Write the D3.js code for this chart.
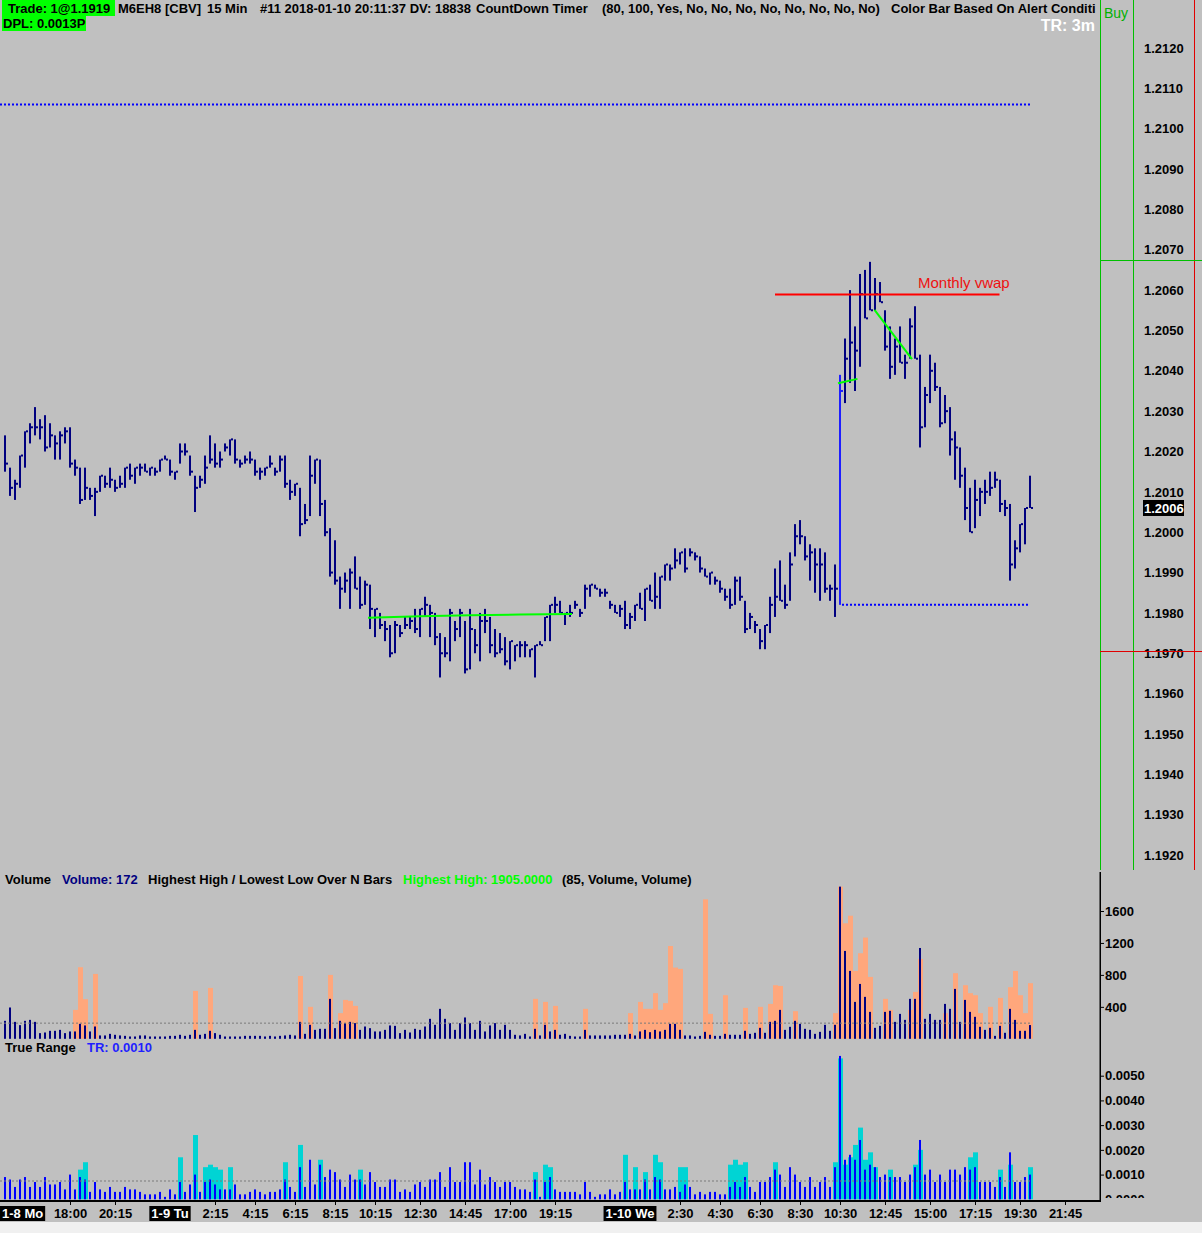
<!DOCTYPE html>
<html>
<head>
<meta charset="utf-8">
<script src="https://cdn.jsdelivr.net/npm/d3@7"></script>
<style>
  html, body { margin: 0; padding: 0; background: #c0c0c0; }
  svg { display: block; }
</style>
</head>
<body>
<div id="chart"></div>
<script>
// 15 min bars, M6EH8, 1-8 .. 1-10 (one entry per bar)
const highs = [
  1.2024,1.2016,1.2013,1.2019,1.2025,1.2027,1.2031,1.2028,1.2029,1.2027,
  1.2024,1.2025,1.2026,1.2026,1.2018,1.2016,1.2016,1.2011,1.2011,1.2014,
  1.2014,1.2016,1.2013,1.2014,1.2016,1.2017,1.2016,1.2017,1.2017,1.2016,
  1.2016,1.2018,1.2019,1.2018,1.2015,1.2022,1.2022,1.2019,1.2014,1.2014,
  1.2019,1.2024,1.2022,1.2020,1.2022,1.2023,1.2023,1.2018,1.2019,1.2020,
  1.2018,1.2016,1.2016,1.2019,1.2016,1.2019,1.2019,1.2013,1.2012,1.2011,
  1.2007,1.2019,1.2018,1.2018,1.2008,1.2001,1.1998,1.1989,1.1990,1.1991,
  1.1994,1.1989,1.1988,1.1987,1.1981,1.1980,1.1978,1.1977,1.1978,1.1977,
  1.1979,1.1979,1.1981,1.1981,1.1984,1.1982,1.1980,1.1975,1.1974,1.1981,
  1.1978,1.1981,1.1978,1.1981,1.1976,1.1980,1.1981,1.1979,1.1976,1.1975,
  1.1974,1.1973,1.1972,1.1973,1.1973,1.1971,1.1972,1.1973,1.1979,1.1982,
  1.1984,1.1983,1.1980,1.1982,1.1983,1.1981,1.1987,1.1987,1.1987,1.1986,
  1.1986,1.1983,1.1982,1.1982,1.1983,1.1980,1.1982,1.1985,1.1986,1.1987,
  1.1990,1.1989,1.1992,1.1992,1.1996,1.1995,1.1996,1.1996,1.1995,1.1994,
  1.1991,1.1990,1.1989,1.1988,1.1986,1.1986,1.1989,1.1989,1.1983,1.1980,
  1.1978,1.1976,1.1977,1.1984,1.1991,1.1993,1.1987,1.1995,1.2002,1.2003,
  1.1999,1.1997,1.1996,1.1996,1.1995,1.1987,1.1992,1.2039,1.2048,1.2060,
  1.2051,1.2064,1.2065,1.2067,1.2063,1.2062,1.2055,1.2051,1.2048,1.2051,
  1.2044,1.2053,1.2056,1.2044,1.2036,1.2044,1.2042,1.2036,1.2034,1.2031,
  1.2025,1.2021,1.2016,1.2011,1.2013,1.2011,1.2013,1.2015,1.2015,1.2013,
  1.2008,1.2007,1.1998,1.2002,1.2006,1.2014
];
const lows = [
  1.2015,1.2009,1.2008,1.2011,1.2016,1.2022,1.2024,1.2023,1.2020,1.2021,
  1.2018,1.2018,1.2022,1.2016,1.2014,1.2007,1.2008,1.2008,1.2004,1.2010,
  1.2011,1.2011,1.2010,1.2011,1.2011,1.2013,1.2012,1.2014,1.2015,1.2014,
  1.2014,1.2015,1.2018,1.2014,1.2013,1.2017,1.2019,1.2014,1.2005,1.2011,
  1.2012,1.2017,1.2016,1.2016,1.2020,1.2019,1.2017,1.2016,1.2017,1.2017,
  1.2014,1.2013,1.2014,1.2016,1.2014,1.2015,1.2011,1.2008,1.2009,1.1999,
  1.2002,1.2004,1.2012,1.2004,1.1999,1.1989,1.1987,1.1981,1.1985,1.1981,
  1.1986,1.1981,1.1982,1.1976,1.1974,1.1976,1.1973,1.1969,1.1970,1.1974,
  1.1976,1.1976,1.1975,1.1974,1.1979,1.1974,1.1972,1.1964,1.1969,1.1968,
  1.1973,1.1974,1.1965,1.1966,1.1970,1.1968,1.1975,1.1970,1.1969,1.1970,
  1.1967,1.1966,1.1968,1.1969,1.1969,1.1969,1.1964,1.1972,1.1973,1.1973,
  1.1980,1.1980,1.1977,1.1979,1.1981,1.1979,1.1981,1.1984,1.1986,1.1984,
  1.1984,1.1981,1.1980,1.1979,1.1976,1.1976,1.1978,1.1981,1.1978,1.1983,
  1.1981,1.1981,1.1988,1.1988,1.1991,1.1992,1.1990,1.1994,1.1993,1.1990,
  1.1989,1.1987,1.1987,1.1985,1.1983,1.1981,1.1982,1.1983,1.1975,1.1976,
  1.1975,1.1971,1.1971,1.1975,1.1979,1.1983,1.1981,1.1983,1.1994,1.1997,
  1.1993,1.1988,1.1985,1.1983,1.1985,1.1983,1.1979,1.1982,1.2032,1.2037,
  1.2035,1.2041,1.2053,1.2055,1.2055,1.2057,1.2045,1.2038,1.2039,1.2042,
  1.2038,1.2043,1.2043,1.2021,1.2026,1.2032,1.2035,1.2026,1.2027,1.2019,
  1.2013,1.2011,1.2003,1.2000,1.2001,1.2004,1.2007,1.2009,1.2011,1.2005,
  1.2004,1.1988,1.1991,1.1995,1.1997,1.2006
];
const closes = [
  1.2017,1.2011,1.2012,1.2019,1.2025,1.2026,1.2026,1.2026,1.2021,1.2024,
  1.2022,1.2024,1.2025,1.2017,1.2016,1.2008,1.2011,1.2009,1.2010,1.2014,
  1.2012,1.2013,1.2011,1.2012,1.2016,1.2014,1.2016,1.2016,1.2015,1.2016,
  1.2015,1.2018,1.2018,1.2015,1.2015,1.2020,1.2020,1.2015,1.2011,1.2013,
  1.2016,1.2018,1.2017,1.2018,1.2021,1.2023,1.2018,1.2017,1.2018,1.2018,
  1.2015,1.2015,1.2016,1.2017,1.2015,1.2018,1.2012,1.2010,1.2012,1.2002,
  1.2003,1.2014,1.2018,1.2007,1.2000,1.1990,1.1988,1.1986,1.1988,1.1990,
  1.1986,1.1982,1.1987,1.1981,1.1981,1.1977,1.1976,1.1970,1.1977,1.1975,
  1.1977,1.1978,1.1976,1.1981,1.1982,1.1980,1.1974,1.1970,1.1970,1.1980,
  1.1976,1.1980,1.1966,1.1976,1.1972,1.1978,1.1978,1.1972,1.1970,1.1971,
  1.1968,1.1973,1.1972,1.1972,1.1972,1.1971,1.1972,1.1972,1.1979,1.1982,
  1.1982,1.1980,1.1980,1.1980,1.1982,1.1980,1.1986,1.1987,1.1986,1.1985,
  1.1985,1.1982,1.1980,1.1981,1.1977,1.1979,1.1982,1.1981,1.1986,1.1983,
  1.1984,1.1989,1.1992,1.1991,1.1993,1.1995,1.1991,1.1995,1.1994,1.1991,
  1.1989,1.1990,1.1988,1.1986,1.1984,1.1982,1.1988,1.1984,1.1976,1.1979,
  1.1977,1.1973,1.1977,1.1982,1.1984,1.1983,1.1982,1.1992,1.1999,1.1999,
  1.1994,1.1995,1.1992,1.1992,1.1986,1.1986,1.1986,1.2035,1.2043,1.2047,
  1.2045,1.2059,1.2053,1.2055,1.2059,1.2057,1.2046,1.2041,1.2046,1.2042,
  1.2042,1.2051,1.2043,1.2026,1.2034,1.2040,1.2036,1.2027,1.2030,1.2023,
  1.2021,1.2014,1.2006,1.2000,1.2008,1.2010,1.2010,1.2011,1.2013,1.2007,
  1.2006,1.1992,1.1996,1.2002,1.2006,1.2006
];
const highlightBars = [167];

const volume = [
  225,392,212,171,225,237,212,71,79,100,
  100,112,71,92,92,187,167,92,154,42,
  42,62,50,42,37,29,29,42,42,29,
  29,29,29,37,37,50,37,50,112,50,
  62,100,71,50,29,29,29,29,37,37,
  37,37,29,37,29,37,42,50,42,212,
  62,175,112,125,125,500,133,225,196,212,
  196,112,154,133,92,92,112,167,162,71,
  112,79,125,112,154,250,175,375,250,196,
  112,196,267,196,112,225,92,167,196,112,
  175,112,50,42,62,29,125,42,175,92,
  112,50,62,37,29,29,112,42,42,42,
  42,42,50,50,50,62,42,92,112,83,
  112,92,112,187,187,112,42,42,29,37,
  87,50,37,37,62,50,50,50,100,62,
  75,137,75,212,225,362,112,150,225,187,
  125,112,62,87,175,100,175,1905,1100,850,
  462,687,525,337,137,162,337,350,212,312,
  237,500,500,1137,250,312,237,237,437,375,
  625,212,487,337,275,150,112,137,37,162,
  75,375,237,100,100,172
];
// [bar, value] for the salmon alert columns
const volumeAlert = [
  [14,362],[15,896],[16,496],[18,812],[38,600],[41,637],[59,787],[61,400],[65,800],
  [67,321],[68,487],[69,475],[70,412],[106,500],[108,462],[110,412],[116,375],
  [125,321],[127,462],[128,375],[129,375],[130,571],[131,362],[132,446],[133,1162],
  [134,892],[135,875],[140,1746],[141,312],[144,546],[148,387],[151,400],[153,437],
  [154,671],[155,662],[158,346],[166,321],[167,1905],[168,1446],[169,1541],[170,850],
  [171,1071],[172,1267],[173,775],[176,500],[177,362],[181,362],[182,587],[183,1000],
  [188,321],[190,821],[192,671],[193,571],[194,546],[195,321],[197,400],[199,512],
  [201,646],[202,850],[203,546],[204,321],[205,696]
];
const volumeLevel = 196;

const trueRange = [
  0.0009,0.0008,0.0005,0.0008,0.0009,0.0005,0.0007,0.0005,0.0009,0.0006,
  0.0006,0.0007,0.0004,0.0010,0.0004,0.0009,0.0008,0.0003,0.0007,0.0004,
  0.0003,0.0005,0.0003,0.0003,0.0005,0.0004,0.0004,0.0003,0.0002,0.0002,
  0.0002,0.0003,0.0001,0.0004,0.0002,0.0007,0.0003,0.0006,0.0010,0.0003,
  0.0007,0.0008,0.0006,0.0004,0.0004,0.0004,0.0006,0.0002,0.0002,0.0003,
  0.0004,0.0003,0.0002,0.0003,0.0003,0.0004,0.0008,0.0005,0.0003,0.0013,
  0.0005,0.0016,0.0006,0.0014,0.0009,0.0012,0.0011,0.0008,0.0005,0.0010,
  0.0008,0.0008,0.0006,0.0011,0.0007,0.0005,0.0005,0.0008,0.0008,0.0003,
  0.0004,0.0003,0.0006,0.0007,0.0005,0.0008,0.0008,0.0011,0.0005,0.0013,
  0.0007,0.0007,0.0015,0.0015,0.0006,0.0012,0.0006,0.0009,0.0007,0.0005,
  0.0007,0.0007,0.0005,0.0004,0.0004,0.0003,0.0008,0.0001,0.0007,0.0009,
  0.0004,0.0003,0.0003,0.0003,0.0003,0.0002,0.0007,0.0003,0.0001,0.0002,
  0.0002,0.0004,0.0002,0.0003,0.0007,0.0004,0.0004,0.0004,0.0008,0.0004,
  0.0009,0.0008,0.0004,0.0004,0.0005,0.0003,0.0006,0.0005,0.0002,0.0003,
  0.0002,0.0003,0.0003,0.0002,0.0002,0.0005,0.0007,0.0005,0.0009,0.0005,
  0.0003,0.0007,0.0007,0.0009,0.0012,0.0010,0.0005,0.0013,0.0010,0.0007,
  0.0005,0.0009,0.0005,0.0007,0.0009,0.0005,0.0013,0.0058,0.0016,0.0018,
  0.0016,0.0024,0.0012,0.0014,0.0013,0.0009,0.0010,0.0009,0.0009,0.0009,
  0.0007,0.0010,0.0013,0.0024,0.0010,0.0012,0.0007,0.0010,0.0007,0.0012,
  0.0012,0.0010,0.0013,0.0012,0.0013,0.0007,0.0007,0.0007,0.0005,0.0009,
  0.0005,0.0019,0.0007,0.0007,0.0009,0.0010
];
const trAlert = [
  [15,0.0012],[16,0.0015],[35,0.0017],[38,0.0026],[40,0.0013],[41,0.0014],[42,0.0013],
  [43,0.0012],[45,0.0013],[56,0.0015],[59,0.0022],[63,0.0016],[71,0.0012],[106,0.0011],
  [108,0.0014],[109,0.0013],[124,0.0018],[126,0.0013],[128,0.0011],[130,0.0018],
  [131,0.0015],[135,0.0013],[136,0.0013],[145,0.0014],[146,0.0016],[147,0.0014],
  [148,0.0015],[154,0.0015],[166,0.0015],[167,0.0057],[168,0.0014],[169,0.0017],
  [170,0.0022],[171,0.0029],[172,0.0016],[173,0.0019],[174,0.0013],[177,0.0012],
  [182,0.0014],[183,0.0020],[193,0.0017],[194,0.0019],[199,0.0012],[201,0.0014],[205,0.0013]
];
const trLevel = 0.00074;

// overlay lines, [bar, price]
const greenLines = [
  [[72.6,1.19788],[83,1.19792],[93,1.19794],[103,1.19796],[113.4,1.19797]],
  [[166.6,1.20369],[170.5,1.20380]],
  [[173.9,1.20551],[181.4,1.20429]]
];
const dottedLevels = [
  { from: -1, to: 205, price: 1.2106 },
  { from: 167.4, to: 205, price: 1.1982 }
];
const vwapLine = [[154,1.20589],[198.9,1.20589]];
const lastPrice = 1.2006;
const axisGreenLevel = 1.20674;
const axisRedLevel = 1.19705;

const priceTicks = d3.range(0, 21).map(i => +(1.1920 + i * 0.001).toFixed(4));
const volumeTicks = [400, 800, 1200, 1600];
const trTicks = [0, 0.001, 0.002, 0.003, 0.004, 0.005];
const timeTicks = [
  [13,'18:00'],[22,'20:15'],[42,'2:15'],[50,'4:15'],[58,'6:15'],[66,'8:15'],[74,'10:15'],
  [83,'12:30'],[92,'14:45'],[101,'17:00'],[110,'19:15'],[135,'2:30'],[143,'4:30'],
  [151,'6:30'],[159,'8:30'],[167,'10:30'],[176,'12:45'],[185,'15:00'],[194,'17:15'],
  [203,'19:30'],[212,'21:45']
];
const dayTicks = [[0,'1-8 Mo'],[33,'1-9 Tu'],[125,'1-10 We']];

// ---- drawing ----
const W = 1202, H = 1233;
const FONT = "'Liberation Sans', Arial, sans-serif";
const NAVY = '#000080';

const svg = d3.select('#chart').append('svg').attr('width', W).attr('height', H)
  .style('font-family', FONT);

svg.append('rect').attr('width', W).attr('height', H).attr('fill', '#c0c0c0');
svg.append('rect').attr('y', 1222).attr('width', W).attr('height', H - 1222).attr('fill', '#f0f0f0');

const defs = svg.append('defs');
function clip(id, x0, y0, w, h) {
  defs.append('clipPath').attr('id', id).append('rect')
    .attr('x', x0).attr('y', y0).attr('width', w).attr('height', h);
}
clip('clipPrice', 0, 0, 1100, 870);
clip('clipLower', 0, 870, 1100, 330);
clip('clipTrAxis', 1100, 1040, 102, 158);
clip('clipHead', 0, 0, 1100, 40);

const bars = d3.range(highs.length);
const x = d3.scaleLinear().domain([0, bars.length - 1]).range([5, 1030]);
const yP = d3.scaleLinear().domain([1.1920, 1.2120]).range([855, 48]);
const yV = d3.scaleLinear().domain([0, 1600]).range([1038.8, 911]);
const yT = d3.scaleLinear().domain([0, 0.005]).range([1199.3, 1075.7]);

// price panel
const price = svg.append('g').attr('clip-path', 'url(#clipPrice)');

price.selectAll('.lvl').data(dottedLevels).join('line')
  .attr('x1', d => x(d.from)).attr('x2', d => x(d.to))
  .attr('y1', d => yP(d.price)).attr('y2', d => yP(d.price))
  .attr('stroke', '#0000ff').attr('stroke-width', 2).attr('stroke-dasharray', '2,2');

const barColor = i => highlightBars.includes(i) ? '#1e1eff' : NAVY;
price.selectAll('.hl').data(bars).join('rect')
  .attr('x', i => x(i) - 1).attr('y', i => yP(highs[i]))
  .attr('width', 2).attr('height', i => Math.max(1, yP(lows[i]) - yP(highs[i])))
  .attr('fill', barColor);
price.selectAll('.cl').data(bars).join('rect')
  .attr('x', i => x(i) + 1).attr('y', i => yP(closes[i]) - 1)
  .attr('width', 2).attr('height', 2)
  .attr('fill', barColor);

const line = d3.line().x(d => x(d[0])).y(d => yP(d[1]));
price.selectAll('.gl').data(greenLines).join('path')
  .attr('d', line).attr('fill', 'none').attr('stroke', '#00ff00').attr('stroke-width', 2);

price.append('path').datum(vwapLine).attr('d', line)
  .attr('fill', 'none').attr('stroke', '#ff0000').attr('stroke-width', 2);
price.append('text')
  .attr('x', x(182.6)).attr('y', yP(vwapLine[0][1]) - 7)
  .attr('fill', '#ee1111').attr('font-size', 15).text('Monthly vwap');

// header
const head = svg.append('g').attr('clip-path', 'url(#clipHead)')
  .attr('font-size', 13).attr('font-weight', 'bold');
head.append('rect').attr('x', 2).attr('y', 0).attr('width', 113).attr('height', 16).attr('fill', '#00ff00');
head.append('rect').attr('x', 2).attr('y', 16).attr('width', 84).attr('height', 15).attr('fill', '#00ff00');
const headItems = [
  [8, 'Trade: 1@1.1919'], [118, 'M6EH8 [CBV]'], [207, '15 Min'],
  [260, '#11 2018-01-10 20:11:37 DV: 18838'], [476, 'CountDown Timer'],
  [602, '(80, 100, Yes, No, No, No, No, No, No, No, No)'],
  [891, 'Color Bar Based On Alert Conditi']
];
head.selectAll('.h1').data(headItems).join('text')
  .attr('x', d => d[0]).attr('y', 13).attr('fill', '#000').text(d => d[1]);
head.append('text').attr('x', 3).attr('y', 28).attr('fill', '#000').text('DPL: 0.0013P');
svg.append('text').attr('x', 1095).attr('y', 31).attr('text-anchor', 'end')
  .attr('font-size', 16).attr('font-weight', 'bold').attr('fill', '#fff').text('TR: 3m');
svg.append('text').attr('x', 1104).attr('y', 18)
  .attr('font-size', 14).attr('fill', '#00b000').text('Buy');

// right price scale
svg.append('g').attr('transform', 'translate(1141,0)')
  .call(d3.axisRight(yP).tickValues(priceTicks).tickSize(0).tickPadding(3).tickFormat(d3.format('.4f')))
  .call(g => g.select('.domain').remove())
  .call(g => g.selectAll('text').attr('font-family', FONT).attr('font-size', 13)
    .attr('font-weight', 'bold').attr('fill', '#000'));

// trade marker lines on the price scale
const vRule = (x0, c) => svg.append('rect').attr('x', x0).attr('y', 0)
  .attr('width', 1).attr('height', 870).attr('fill', c);
const hRule = (y0, c) => svg.append('rect').attr('x', 1100).attr('y', Math.round(y0))
  .attr('width', 102).attr('height', 1).attr('fill', c);
vRule(1100, '#00c000');
vRule(1133, '#00c000');
vRule(1194, '#e00000');
hRule(yP(axisGreenLevel), '#00c000');
hRule(yP(axisRedLevel), '#e00000');

svg.append('rect').attr('x', 1143).attr('y', yP(lastPrice) - 8).attr('width', 41).attr('height', 16).attr('fill', '#000');
svg.append('text').attr('x', 1144).attr('y', yP(lastPrice) + 5)
  .attr('font-size', 13).attr('font-weight', 'bold').attr('fill', '#fff').text(lastPrice.toFixed(4));

// volume panel
const lower = svg.append('g').attr('clip-path', 'url(#clipLower)');
lower.selectAll('.va').data(volumeAlert).join('rect')
  .attr('x', d => x(d[0]) - 2).attr('y', d => yV(d[1]))
  .attr('width', 5).attr('height', d => yV(0) - yV(d[1])).attr('fill', '#ffa77c');
lower.selectAll('.vb').data(bars).join('rect')
  .attr('x', i => x(i) - 1).attr('y', i => yV(volume[i]))
  .attr('width', 2).attr('height', i => yV(0) - yV(volume[i])).attr('fill', NAVY);
lower.append('line').attr('x1', 0).attr('x2', x(205))
  .attr('y1', yV(volumeLevel)).attr('y2', yV(volumeLevel))
  .attr('stroke', '#7a7a7a').attr('stroke-dasharray', '2,2');

// true range panel
lower.selectAll('.ta').data(trAlert).join('rect')
  .attr('x', d => x(d[0]) - 2).attr('y', d => yT(d[1]))
  .attr('width', 5).attr('height', d => yT(0) - yT(d[1])).attr('fill', '#00d4d4');
lower.selectAll('.tb').data(bars).join('rect')
  .attr('x', i => x(i) - 1).attr('y', i => yT(trueRange[i]))
  .attr('width', 2).attr('height', i => yT(0) - yT(trueRange[i])).attr('fill', '#0000ff');
lower.append('line').attr('x1', 0).attr('x2', x(205))
  .attr('y1', yT(trLevel)).attr('y2', yT(trLevel))
  .attr('stroke', '#7a7a7a').attr('stroke-dasharray', '2,2');

// panel titles, each piece at its own x
const titles = [
  [5, 884, 'Volume', '#000'], [62, 884, 'Volume: 172', NAVY],
  [148, 884, 'Highest High / Lowest Low Over N Bars', '#000'],
  [403, 884, 'Highest High: 1905.0000', '#00ff00'], [562, 884, '(85, Volume, Volume)', '#000'],
  [5, 1052, 'True Range', '#000'], [87, 1052, 'TR: 0.0010', '#1f1fff']
];
svg.append('g').attr('font-size', 13).attr('font-weight', 'bold')
  .selectAll('text').data(titles).join('text')
  .attr('x', d => d[0]).attr('y', d => d[1]).attr('fill', d => d[3]).text(d => d[2]);

// lower right axes
const styleAxis = g => {
  g.select('.domain').remove();
  g.selectAll('line').attr('stroke', '#000');
  g.selectAll('text').attr('font-family', FONT).attr('font-size', 13)
    .attr('font-weight', 'bold').attr('fill', '#000');
};
svg.append('g').attr('transform', 'translate(1100,0)')
  .call(d3.axisRight(yV).tickValues(volumeTicks).tickSize(4).tickPadding(1).tickFormat(d3.format('d')))
  .call(styleAxis);
svg.append('g').attr('clip-path', 'url(#clipTrAxis)')
  .append('g').attr('transform', 'translate(1100,0)')
  .call(d3.axisRight(yT).tickValues(trTicks).tickSize(4).tickPadding(1).tickFormat(d3.format('.4f')))
  .call(styleAxis);
svg.append('rect').attr('x', 1099.5).attr('y', 872).attr('width', 1.5).attr('height', 330).attr('fill', '#000');

// time axis
svg.append('rect').attr('x', 0).attr('y', 1200).attr('width', 1101).attr('height', 2).attr('fill', '#000');
svg.append('g').attr('transform', 'translate(0,1201)')
  .call(d3.axisBottom(x).tickValues(timeTicks.map(d => d[0]))
    .tickFormat((d, i) => timeTicks[i][1]).tickSize(4).tickPadding(4))
  .call(styleAxis);

const day = svg.append('g').attr('font-size', 13).attr('font-weight', 'bold');
dayTicks.forEach(([b, label]) => {
  const t = day.append('text').attr('y', 1218).attr('fill', '#fff').text(label);
  const w = t.node().getComputedTextLength() + 4;
  const left = Math.max(0, x(b) - w / 2);
  day.insert('rect', 'text').attr('x', left).attr('y', 1206).attr('width', w).attr('height', 15).attr('fill', '#000');
  t.attr('x', left + 2);
});
</script>
</body>
</html>
